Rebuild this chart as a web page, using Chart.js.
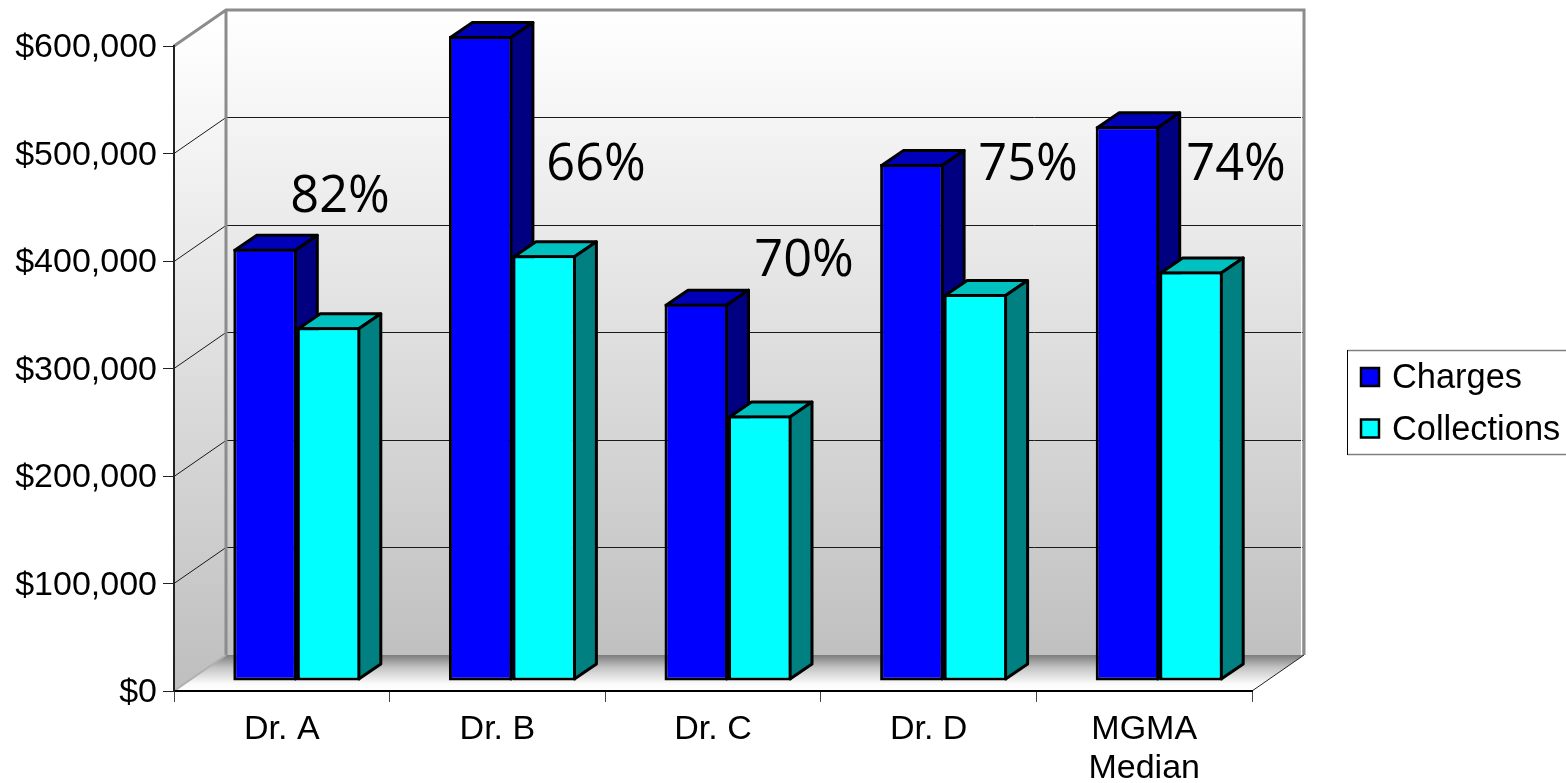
<!DOCTYPE html>
<html>
<head>
<meta charset="utf-8">
<title>Charges and Collections</title>
<script src="https://cdn.jsdelivr.net/npm/chart.js@4/dist/chart.umd.min.js"></script>
<style>
  html,body{margin:0;padding:0;background:#fff;overflow:hidden;}
  canvas{display:block;}
</style>
</head>
<body>
<canvas id="chart" width="1566" height="783"></canvas>
<script>
/* ------- DATA ------- */
const categories = [["Dr. A"], ["Dr. B"], ["Dr. C"], ["Dr. D"], ["MGMA", "Median"]];
const charges = [402000, 600000, 351000, 481000, 516000];
const collections = [329000, 396000, 247000, 360000, 381000];
const ratioLabels = ["82%", "66%", "70%", "75%", "74%"];
const ratioLabelSpots = [[340, 212], [596, 180], [804, 276], [1028, 180], [1236, 180]];

/* ------- 3D LOOK ------- */
const WALL_DX = 52, WALL_DY = 36;   // how far the back wall sits behind the axes
const BAR_DX = 15, BAR_DY = 10;     // bars stand a little inside the floor
const SIDE_DX = 22, SIDE_DY = 15;   // bar depth
const BAR_LINE = 3;
const AXIS_FONT = { family: "'Liberation Sans', Arial, sans-serif", size: 34, lineHeight: 1.15 };

const faceColors = [
  { top: "#0000b8", side: "#000080" },
  { top: "#00c0c0", side: "#008080" }
];

function poly(ctx, pts, fill, stroke, width){
  ctx.beginPath();
  pts.forEach((p, i) => i ? ctx.lineTo(p[0], p[1]) : ctx.moveTo(p[0], p[1]));
  ctx.closePath();
  if(fill){ ctx.fillStyle = fill; ctx.fill(); }
  if(stroke){ ctx.strokeStyle = stroke; ctx.lineWidth = width; ctx.lineJoin = "round"; ctx.stroke(); }
}

function wallGradient(ctx, top, bottom){
  const g = ctx.createLinearGradient(0, top, 0, bottom);
  g.addColorStop(0, "#ffffff");
  g.addColorStop(1, "#c0c0c0");
  return g;
}

/* walls, floor and the grid lines on them */
const wallsPlugin = {
  id: "walls",
  beforeDraw(chart){
    const { ctx, chartArea: a, scales } = chart;
    const L = a.left, R = a.right, T = a.top, B = a.bottom;
    const bl = L + WALL_DX, br = R + WALL_DX, bt = T - WALL_DY, bb = B - WALL_DY;

    ctx.save();
    poly(ctx, [[bl, bt], [br, bt], [br, bb], [bl, bb]], wallGradient(ctx, bt, bb));
    poly(ctx, [[L, T], [bl, bt], [bl, bb], [L, B]], wallGradient(ctx, T - 18, B - 18));

    const floor = ctx.createLinearGradient(0, bb, 0, B);
    floor.addColorStop(0, "#7c7c7c");
    floor.addColorStop(0.35, "#c4c4c4");
    floor.addColorStop(0.8, "#fbfbfb");
    floor.addColorStop(1, "#ffffff");
    poly(ctx, [[L, B], [bl, bb], [br, bb], [R, B]], floor);

    // value grid on the left and back walls
    ctx.strokeStyle = "#1a1a1a";
    ctx.lineWidth = 1;
    scales.y.ticks.forEach(t => {
      if(t.value === 0 || t.value === scales.y.max) return;
      const y = Math.floor(scales.y.getPixelForValue(t.value)) + 0.5;
      ctx.beginPath();
      ctx.moveTo(L, y);
      ctx.lineTo(bl, y - WALL_DY);
      ctx.lineTo(br, y - WALL_DY);
      ctx.stroke();
    });

    // white seam just inside the right wall edge
    ctx.strokeStyle = "#ffffff";
    ctx.lineWidth = 1;
    ctx.beginPath(); ctx.moveTo(br - 2.5, bt); ctx.lineTo(br - 2.5, bb); ctx.stroke();

    // thick gray wall outline
    ctx.strokeStyle = "#8c8c8c";
    ctx.lineWidth = 3;
    ctx.lineJoin = "miter";
    ctx.beginPath();
    ctx.moveTo(L, T);
    ctx.lineTo(bl, bt);
    ctx.lineTo(br, bt);
    ctx.lineTo(br, bb);
    ctx.moveTo(bl, bt);
    ctx.lineTo(bl, bb);
    ctx.stroke();

    // light seam along the left floor edge, dark one on the right
    ctx.lineWidth = 2;
    ctx.strokeStyle = "#b0b0b0";
    ctx.beginPath(); ctx.moveTo(L, B); ctx.lineTo(bl, bb); ctx.stroke();
    ctx.lineWidth = 1;
    ctx.strokeStyle = "#222";
    ctx.beginPath(); ctx.moveTo(R, B); ctx.lineTo(br, bb); ctx.stroke();
    ctx.restore();
  }
};

/* top and side faces of each bar, then shift the fronts onto the floor */
const barDepthPlugin = {
  id: "barDepth",
  beforeDatasetsDraw(chart){
    const { ctx } = chart;
    const m = BAR_LINE / 2;   // chart.js keeps the border inside the bar
    ctx.save();
    ctx.translate(BAR_DX, -BAR_DY);
    chart.data.datasets.forEach((ds, i) => {
      chart.getDatasetMeta(i).data.forEach(bar => {
        const l = bar.x - bar.width / 2 + m, r = bar.x + bar.width / 2 - m;
        const t = bar.y + m, b = bar.base - m;
        poly(ctx, [[l, t], [l + SIDE_DX, t - SIDE_DY], [r + SIDE_DX, t - SIDE_DY], [r, t]], faceColors[i].top, "#000", BAR_LINE);
        poly(ctx, [[r, t], [r + SIDE_DX, t - SIDE_DY], [r + SIDE_DX, b - SIDE_DY], [r, b]], faceColors[i].side, "#000", BAR_LINE);
      });
    });
  },
  afterDatasetsDraw(chart){
    chart.ctx.restore();
  }
};

/* percent labels and the legend box */
const notesPlugin = {
  id: "notes",
  afterDraw(chart){
    const { ctx } = chart;
    ctx.save();
    ctx.fillStyle = "#000";
    ctx.textBaseline = "alphabetic";
    ctx.textAlign = "center";
    ctx.font = "50.5px 'Open Sans', sans-serif";
    ratioLabels.forEach((txt, i) => {
      ctx.fillText(txt, ratioLabelSpots[i][0], ratioLabelSpots[i][1]);
    });

    // legend
    ctx.strokeStyle = "#808080";
    ctx.lineWidth = 1.5;
    ctx.beginPath();
    ctx.moveTo(1566, 350.5); ctx.lineTo(1347.5, 350.5);
    ctx.moveTo(1347.5, 454.5); ctx.lineTo(1566, 454.5);
    ctx.stroke();
    ctx.strokeStyle = "#000";
    ctx.lineWidth = 1;
    ctx.beginPath();
    ctx.moveTo(1347.5, 350); ctx.lineTo(1347.5, 455);
    ctx.stroke();

    ctx.textAlign = "left";
    ctx.font = "34.4px " + AXIS_FONT.family;
    chart.data.datasets.forEach((ds, i) => {
      const rowY = 368 + i * 51.5;
      ctx.fillStyle = ds.backgroundColor;
      ctx.strokeStyle = "#000";
      ctx.lineWidth = 2.5;
      ctx.fillRect(1361, rowY, 18, 18);
      ctx.strokeRect(1361, rowY, 18, 18);
      ctx.fillStyle = "#000";
      ctx.fillText(ds.label, 1392, rowY + 20);
    });
    ctx.restore();
  }
};

/* ------- CHART ------- */
new Chart(document.getElementById("chart"), {
  type: "bar",
  data: {
    labels: categories,
    datasets: [
      { label: "Charges", data: charges, backgroundColor: "#0000ff" },
      { label: "Collections", data: collections, backgroundColor: "#00ffff" }
    ]
  },
  options: {
    responsive: false,
    animation: false,
    layout: { padding: { top: 46, right: 314, left: 0, bottom: 0 } },
    datasets: {
      bar: {
        categoryPercentage: 0.589,
        barPercentage: 1,
        borderColor: "#000",
        borderWidth: BAR_LINE,
        borderSkipped: false
      }
    },
    scales: {
      x: {
        afterFit: s => { s.height = 92; },
        border: { color: "#000", width: 2 },
        grid: { drawOnChartArea: false, tickLength: 11, tickColor: "#444" },
        ticks: { color: "#000", font: AXIS_FONT, padding: 8, maxRotation: 0 }
      },
      y: {
        min: 0,
        max: 600000,
        afterFit: s => { s.width = 174; },
        border: { color: "#222", width: 2 },
        grid: { drawOnChartArea: false, tickLength: 11, tickColor: "#222" },
        ticks: {
          color: "#000",
          font: AXIS_FONT,
          padding: 6,
          labelOffset: 2,
          stepSize: 100000,
          callback: v => "$" + v.toLocaleString("en-US")
        }
      }
    },
    plugins: {
      legend: { display: false },
      tooltip: { enabled: false }
    }
  },
  plugins: [wallsPlugin, barDepthPlugin, notesPlugin]
});
</script>
</body>
</html>
